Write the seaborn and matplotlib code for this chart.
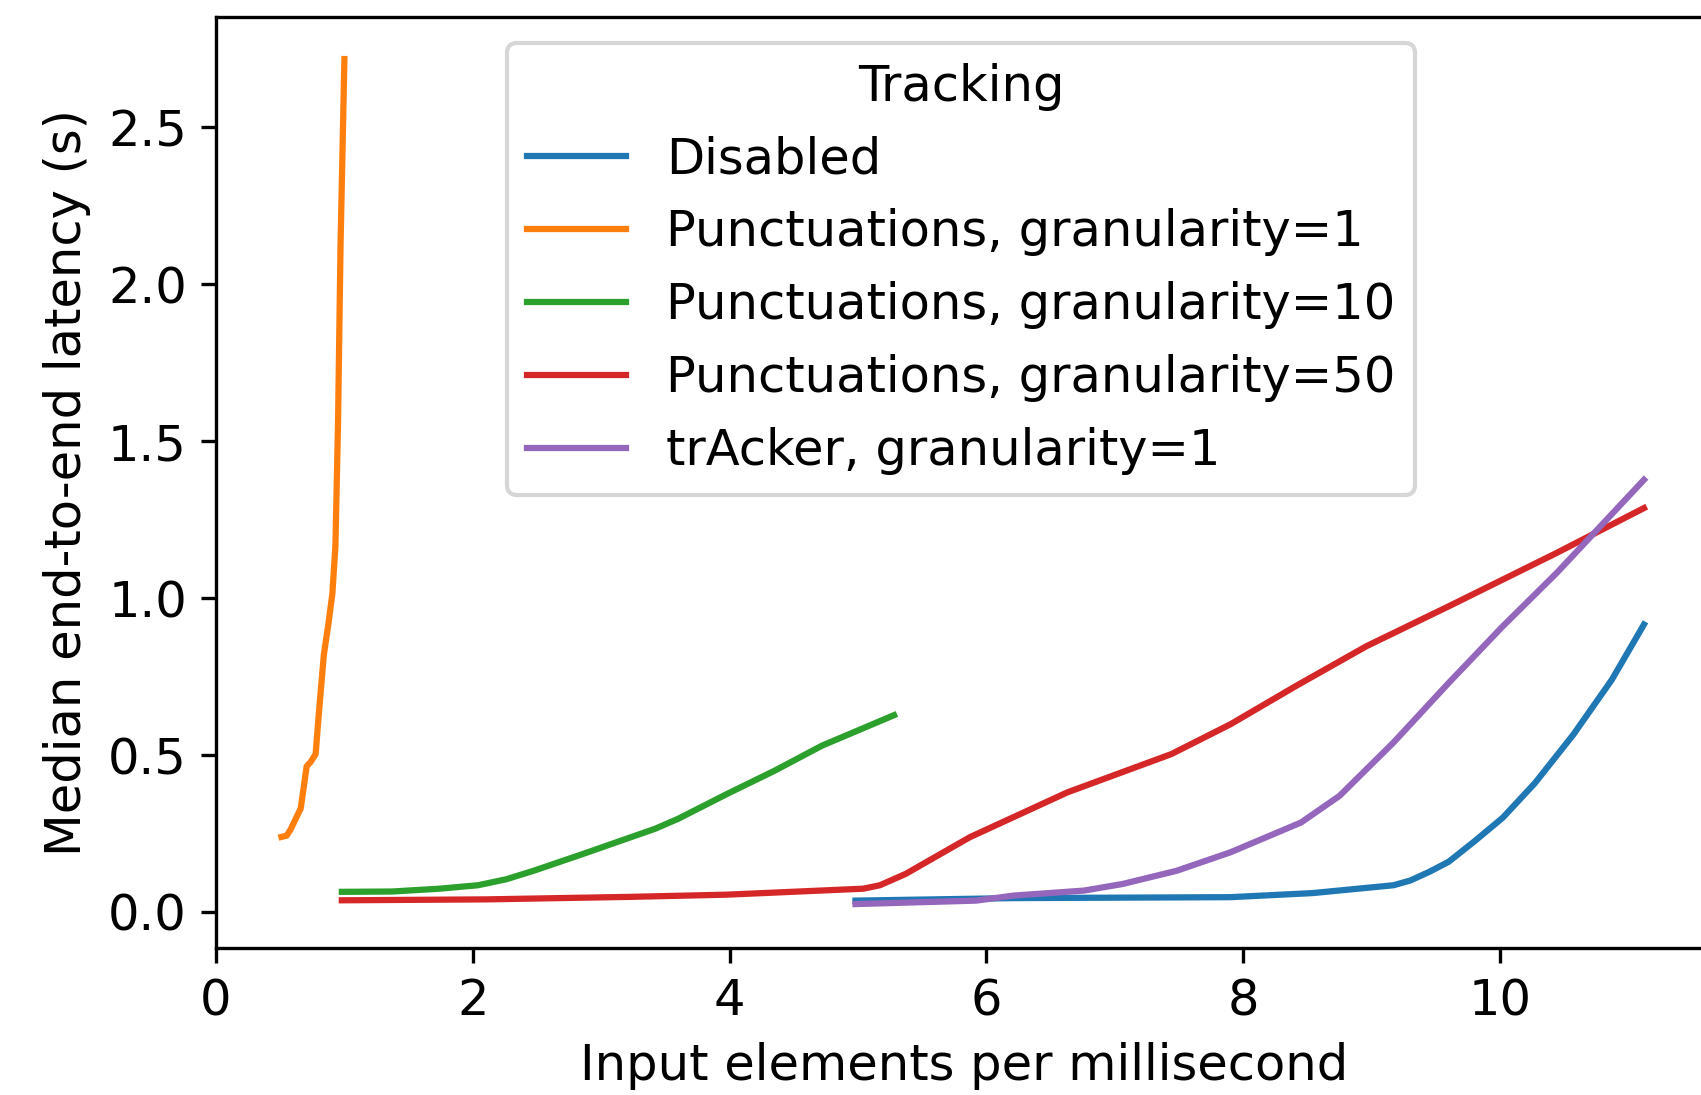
import matplotlib
matplotlib.use("Agg")
import matplotlib.pyplot as plt
import seaborn as sns
import pandas as pd

series_names = [
    "Disabled",
    "Punctuations, granularity=1",
    "Punctuations, granularity=10",
    "Punctuations, granularity=50",
    "trAcker, granularity=1",
]

disabled_x = [4.98, 6.21, 7.90, 8.54, 9.17, 9.30, 9.45, 9.60, 9.80, 10.02, 10.27, 10.57, 10.87, 11.12]
disabled_y = [0.036, 0.044, 0.047, 0.060, 0.085, 0.100, 0.128, 0.160, 0.225, 0.300, 0.410, 0.565, 0.740, 0.916]

punc1_x = [0.51, 0.55, 0.58, 0.66, 0.706, 0.737, 0.776, 0.80, 0.84, 0.875, 0.906, 0.93, 0.95, 0.97, 1.0]
punc1_y = [0.239, 0.243, 0.262, 0.33, 0.464, 0.478, 0.503, 0.628, 0.82, 0.917, 1.013, 1.167, 1.55, 2.13, 2.718]

punc10_x = [0.98, 1.37, 1.74, 2.04, 2.26, 2.48, 2.86, 3.23, 3.42, 3.60, 3.98, 4.35, 4.72, 5.28]
punc10_y = [0.064, 0.065, 0.074, 0.085, 0.104, 0.132, 0.185, 0.238, 0.265, 0.297, 0.376, 0.45, 0.53, 0.627]

punc50_x = [0.98, 2.11, 3.23, 3.98, 5.04, 5.17, 5.37, 5.87, 6.63, 7.44, 7.90, 8.41, 8.96, 9.60, 10.02, 10.44, 11.12]
punc50_y = [0.037, 0.040, 0.048, 0.055, 0.074, 0.085, 0.121, 0.238, 0.381, 0.503, 0.598, 0.72, 0.847, 0.974, 1.059, 1.144, 1.287]

tracker_x = [4.98, 5.92, 6.21, 6.76, 7.06, 7.48, 7.90, 8.45, 8.75, 9.17, 9.60, 10.02, 10.44, 11.12]
tracker_y = [0.025, 0.036, 0.052, 0.068, 0.089, 0.131, 0.19, 0.285, 0.37, 0.54, 0.73, 0.91, 1.08, 1.377]

xs = [disabled_x, punc1_x, punc10_x, punc50_x, tracker_x]
ys = [disabled_y, punc1_y, punc10_y, punc50_y, tracker_y]

rows = []
for name, x, y in zip(series_names, xs, ys):
    for a, b in zip(x, y):
        rows.append({"rate": a, "latency": b, "Tracking": name})
df = pd.DataFrame(rows)

plt.rcParams["font.family"] = ["DejaVu Sans"]
plt.rcParams["font.size"] = 11.9

fig = plt.figure(figsize=(1702 / 300, 1095 / 300), dpi=300)
ax = fig.add_axes([216 / 1702, 147 / 1095, 1496 / 1702, 931 / 1095])

palette = sns.color_palette("tab10", 5)
sns.lineplot(data=df, x="rate", y="latency", hue="Tracking", hue_order=series_names,
             palette=palette, estimator=None, sort=True, linewidth=1.5, ax=ax)

ax.set_xlim(left=0, right=11.65)
ax.set_ylim(-0.115, 2.852)
ax.set_xticks([0, 2, 4, 6, 8, 10])
ax.set_yticks([0.0, 0.5, 1.0, 1.5, 2.0, 2.5])
ax.set_xlabel("Input elements per millisecond")
ax.set_ylabel("Median end-to-end latency (s)")

handles, labels = ax.get_legend_handles_labels()
ax.legend(handles=handles, labels=labels, title="Tracking", loc="upper left",
          bbox_to_anchor=(0.1945, 0.972), borderaxespad=0, fontsize=11.9, title_fontsize=11.9)

fig.savefig("out.png", dpi=300)
